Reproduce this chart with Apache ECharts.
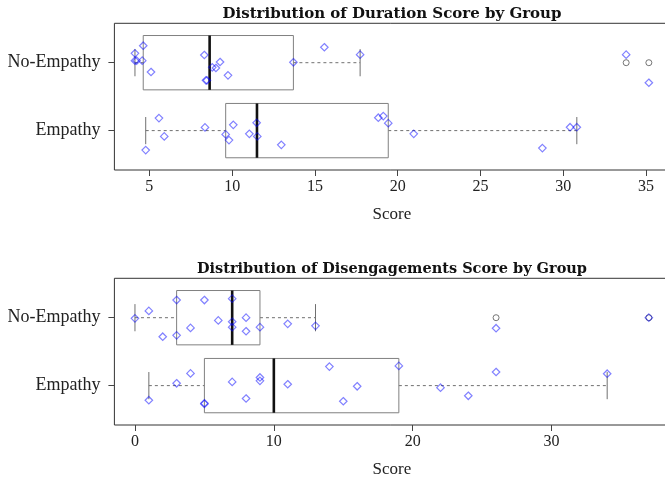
<!DOCTYPE html>
<html>
<head>
<meta charset="utf-8">
<script src="https://cdn.jsdelivr.net/npm/echarts@6/dist/echarts.min.js"></script>
<style>html,body{margin:0;padding:0;background:#fff;}#c{width:665px;height:480px;}</style>
</head>
<body>
<div id="c"></div>
<script>
// Group categories (y = 1 Empathy, y = 2 No-Empathy)
const groups = ['Empathy', 'No-Empathy'];
const titles = ['Distribution of Duration Score by Group', 'Distribution of Disengagements Score by Group'];
const axisName = 'Score';
const ticksTop = [5, 10, 15, 20, 25, 30, 35];
const ticksBottom = [0, 10, 20, 30];

// Duration scores
const durEmpathy = [4.78, 5.58, 5.90, 8.36, 9.61, 9.81, 10.07, 11.04, 11.48, 11.52, 12.97, 18.83, 19.13, 19.43, 20.97, 28.74, 30.41, 30.82];
const durEmpathyJit = [-0.287, 0.184, -0.085, 0.047, -0.056, -0.14, 0.085, -0.047, 0.115, -0.085, -0.21, 0.19, 0.214, 0.11, -0.047, -0.257, 0.05, 0.05];
const durNoEmp = [4.13, 4.13, 4.23, 4.57, 4.63, 5.10, 8.32, 8.42, 8.48, 8.80, 9.02, 9.27, 9.75, 13.70, 15.57, 17.73, 33.80, 35.17];
const durNoEmpJit = [0.138, 0.03, 0.03, 0.03, 0.25, -0.137, 0.113, -0.26, -0.26, -0.068, -0.078, 0.01, -0.186, 0.006, 0.227, 0.118, 0.118, -0.295];

// Disengagement scores
const disEmpathy = [1, 3, 4, 5, 5, 7, 8, 9, 9, 11, 14, 15, 16, 19, 22, 24, 26, 34];
const disEmpathyJit = [-0.215, 0.034, 0.18, -0.26, -0.27, 0.054, -0.19, 0.12, 0.07, 0.02, 0.28, -0.23, -0.01, 0.29, -0.03, -0.15, 0.2, 0.175];
const disNoEmp = [0, 1, 2, 3, 3, 4, 5, 6, 7, 7, 7, 8, 8, 9, 11, 13, 26, 37];
const disNoEmpJit = [-0.01, 0.10, -0.28, 0.26, -0.26, -0.15, 0.26, -0.04, 0.28, -0.06, -0.14, 0, -0.2, -0.14, -0.09, -0.12, -0.155, 0];

function fivenum(arr) {
  const x = arr.slice().sort((a, b) => a - b);
  const n = x.length;
  const n4 = Math.floor((n + 3) / 2) / 2;
  const d = [1, n4, (n + 1) / 2, n + 1 - n4, n];
  return d.map(v => 0.5 * (x[Math.floor(v) - 1] + x[Math.ceil(v) - 1]));
}
function boxStats(arr) {
  const f = fivenum(arr);
  const iqr = f[3] - f[1];
  const lo = f[1] - 1.5 * iqr, hi = f[3] + 1.5 * iqr;
  const inside = arr.filter(v => v >= lo && v <= hi);
  const out = arr.filter(v => v < lo || v > hi);
  return {q1: f[1], med: f[2], q3: f[3], wlo: Math.min(...inside), whi: Math.max(...inside), out};
}

const chart = echarts.init(document.getElementById('c'), null, {renderer: 'canvas'});
const FONT = 'Liberation Serif';
const panels = [
  {emp: durEmpathy, empJ: durEmpathyJit, no: durNoEmp, noJ: durNoEmpJit, ticks: ticksTop, top: 23.3, tSize: 15},
  {emp: disEmpathy, empJ: disEmpathyJit, no: disNoEmp, noJ: disNoEmpJit, ticks: ticksBottom, top: 278.3, tSize: 14.5}
];
const grids = [], xAxes = [], yAxes = [], series = [], titleArr = [];
panels.forEach((p, i) => {
  const all = p.emp.concat(p.no);
  const mn = Math.min(...all), mx = Math.max(...all);
  const pad = 0.04 * (mx - mn);
  grids.push({left: 114.4, top: p.top, width: 555, height: 146.7, show: true, borderColor: '#333', borderWidth: 1,
    backgroundColor: 'transparent', containLabel: false, outerBoundsMode: 'none'});
  titleArr.push({text: titles[i], left: 387, top: p.top - 22, textAlign: 'center',
    textStyle: {fontFamily: 'DejaVu Serif', fontWeight: 'bold', fontSize: p.tSize, color: '#111'}});
  xAxes.push({type: 'value', gridIndex: i, min: mn - pad, max: mx + pad,
    axisLine: {show: false, onZero: false}, splitLine: {show: false},
    axisTick: {show: true, length: 6, customValues: p.ticks, lineStyle: {color: '#444'}},
    axisLabel: {customValues: p.ticks, margin: 9, fontFamily: FONT, fontSize: 16, color: '#222'},
    name: axisName, nameLocation: 'middle', nameGap: 36,
    nameTextStyle: {fontFamily: FONT, fontSize: 17, color: '#222'}});
  yAxes.push({type: 'value', gridIndex: i, min: 0.42, max: 2.58,
    axisLine: {show: false, onZero: false}, splitLine: {show: false},
    axisTick: {show: true, length: 6, customValues: [1, 2], lineStyle: {color: '#444'}},
    axisLabel: {customValues: [1, 2], margin: 14, fontFamily: FONT, fontSize: 18, color: '#222',
      formatter: v => groups[Math.round(v) - 1]}});
  const sets = [[p.emp, p.empJ, 1], [p.no, p.noJ, 2]];
  const boxData = [], outData = [], ptData = [];
  sets.forEach(([vals, jit, g]) => {
    const s = boxStats(vals);
    boxData.push([g, s.q1, s.med, s.q3, s.wlo, s.whi]);
    s.out.forEach(v => outData.push([v, g]));
    vals.forEach((v, k) => ptData.push([v, g + jit[k]]));
  });
  series.push({type: 'custom', xAxisIndex: i, yAxisIndex: i, silent: true, clip: false,
    data: boxData,
    renderItem: (params, api) => {
      const g = api.value(0);
      const q1 = api.coord([api.value(1), g]), med = api.coord([api.value(2), g]), q3 = api.coord([api.value(3), g]);
      const wlo = api.coord([api.value(4), g]), whi = api.coord([api.value(5), g]);
      const hh = api.size([0, 0.4])[1];
      const sh = hh / 2;
      const cy = q1[1];
      const grey = '#808080';
      return {type: 'group', children: [
        {type: 'line', shape: {x1: wlo[0], y1: cy, x2: q1[0], y2: cy}, style: {stroke: '#707070', lineWidth: 1, lineDash: [3, 3]}},
        {type: 'line', shape: {x1: q3[0], y1: cy, x2: whi[0], y2: cy}, style: {stroke: '#707070', lineWidth: 1, lineDash: [3, 3]}},
        {type: 'line', shape: {x1: wlo[0], y1: cy - sh, x2: wlo[0], y2: cy + sh}, style: {stroke: '#707070', lineWidth: 1}},
        {type: 'line', shape: {x1: whi[0], y1: cy - sh, x2: whi[0], y2: cy + sh}, style: {stroke: '#707070', lineWidth: 1}},
        {type: 'rect', shape: {x: q1[0], y: cy - hh, width: q3[0] - q1[0], height: 2 * hh}, style: {fill: 'none', stroke: grey, lineWidth: 1}},
        {type: 'line', shape: {x1: med[0], y1: cy - hh, x2: med[0], y2: cy + hh}, style: {stroke: '#111', lineWidth: 2.6}}
      ]};
    }});
  series.push({type: 'scatter', xAxisIndex: i, yAxisIndex: i, silent: true, data: outData, symbol: 'circle', symbolSize: 6,
    itemStyle: {color: 'transparent', borderColor: '#555', borderWidth: 1}, z: 3});
  series.push({type: 'scatter', xAxisIndex: i, yAxisIndex: i, silent: true, data: ptData, symbol: 'diamond', symbolSize: 7.5,
    itemStyle: {color: 'transparent', borderColor: 'rgba(0,0,255,0.62)', borderWidth: 1.2}, z: 4});
});

chart.setOption({animation: false, backgroundColor: '#fff', title: titleArr, grid: grids, xAxis: xAxes, yAxis: yAxes, series: series});
</script>
</body>
</html>
